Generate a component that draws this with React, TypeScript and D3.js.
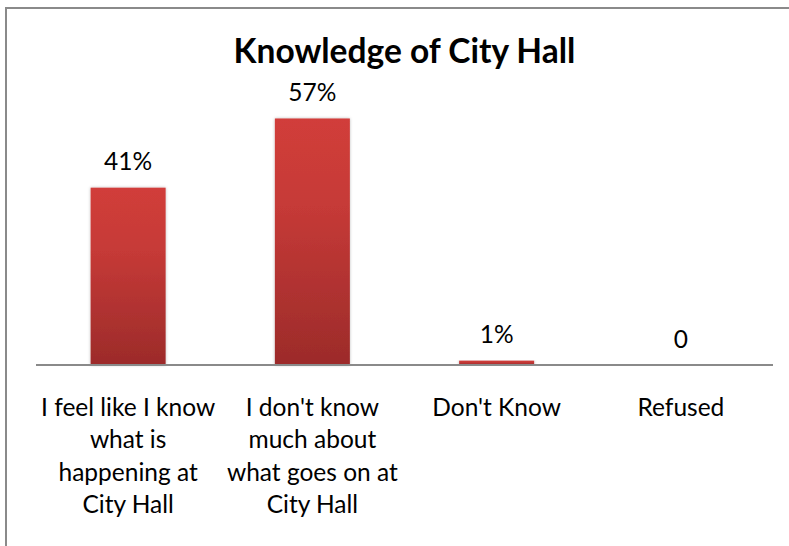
import React from "react";
import * as d3 from "d3";

const categories = [
  "I feel like I know\nwhat is\nhappening at\nCity Hall",
  "I don't know\nmuch about\nwhat goes on at\nCity Hall",
  "Don't Know",
  "Refused",
];
const values = [0.41, 0.57, 0.01, 0];
const title = "Knowledge of City Hall";

const W = 789;
const H = 546;
const plotLeft = 36;
const plotRight = 773;
const baseline = 365;

export default function App() {
  const x = d3
    .scaleBand<number>()
    .domain(d3.range(categories.length))
    .range([plotLeft, plotRight])
    .paddingInner(0.593)
    .paddingOuter(0.2965);
  const y = d3.scaleLinear().domain([0, 0.6]).range([baseline, baseline - 0.6 * 432.5]);
  const fmt = (v: number) => (v === 0 ? "0" : d3.format(".0%")(v));
  const font = "Lato, 'Open Sans', sans-serif";

  return (
    <svg
      width={W}
      height={H}
      style={{ position: "absolute", left: 0, top: 0, background: "#fff" }}
    >
      <defs>
        <linearGradient id="barGrad" x1="0" y1="0" x2="0" y2="1">
          <stop offset="0" stopColor="#d13d3a" />
          <stop offset="0.35" stopColor="#c63a37" />
          <stop offset="1" stopColor="#9c2b2a" />
        </linearGradient>
        <filter id="shadow" x="-20%" y="-5%" width="140%" height="110%">
          <feDropShadow dx="0" dy="0" stdDeviation="1.6" floodColor="#000" floodOpacity="0.28" />
        </filter>
      </defs>
      <rect x={6} y={8} width={W + 20} height={H + 20} fill="#fff" stroke="#8a8a8a" strokeWidth={2} />
      <text
        x={(plotLeft + plotRight) / 2}
        y={63}
        textAnchor="middle"
        fontFamily={font}
        fontWeight="bold"
        fontSize={33.5}
        fill="#000"
      >
        {title}
      </text>
      {values.map((v, i) => {
        const h = baseline - y(v);
        return (
          <g key={i}>
            {h > 0 && (
              <rect
                x={x(i)}
                y={y(v)}
                width={x.bandwidth()}
                height={h}
                fill="url(#barGrad)"
                filter="url(#shadow)"
              />
            )}
            <text
              x={(x(i) as number) + x.bandwidth() / 2}
              y={y(v) - 17.5}
              textAnchor="middle"
              fontFamily={font}
              fontSize={24.5}
              fill="#000"
            >
              {fmt(v)}
            </text>
          </g>
        );
      })}
      <line x1={plotLeft} x2={plotRight} y1={baseline} y2={baseline} stroke="#8a8a8a" strokeWidth={2} />
      {categories.map((c, i) => (
        <text
          key={i}
          x={(x(i) as number) + x.bandwidth() / 2}
          y={416}
          textAnchor="middle"
          fontFamily={font}
          fontSize={24.5}
          fill="#000"
        >
          {c.split("\n").map((line, j) => (
            <tspan key={j} x={(x(i) as number) + x.bandwidth() / 2} dy={j === 0 ? 0 : 32.3}>
              {line}
            </tspan>
          ))}
        </text>
      ))}
    </svg>
  );
}
